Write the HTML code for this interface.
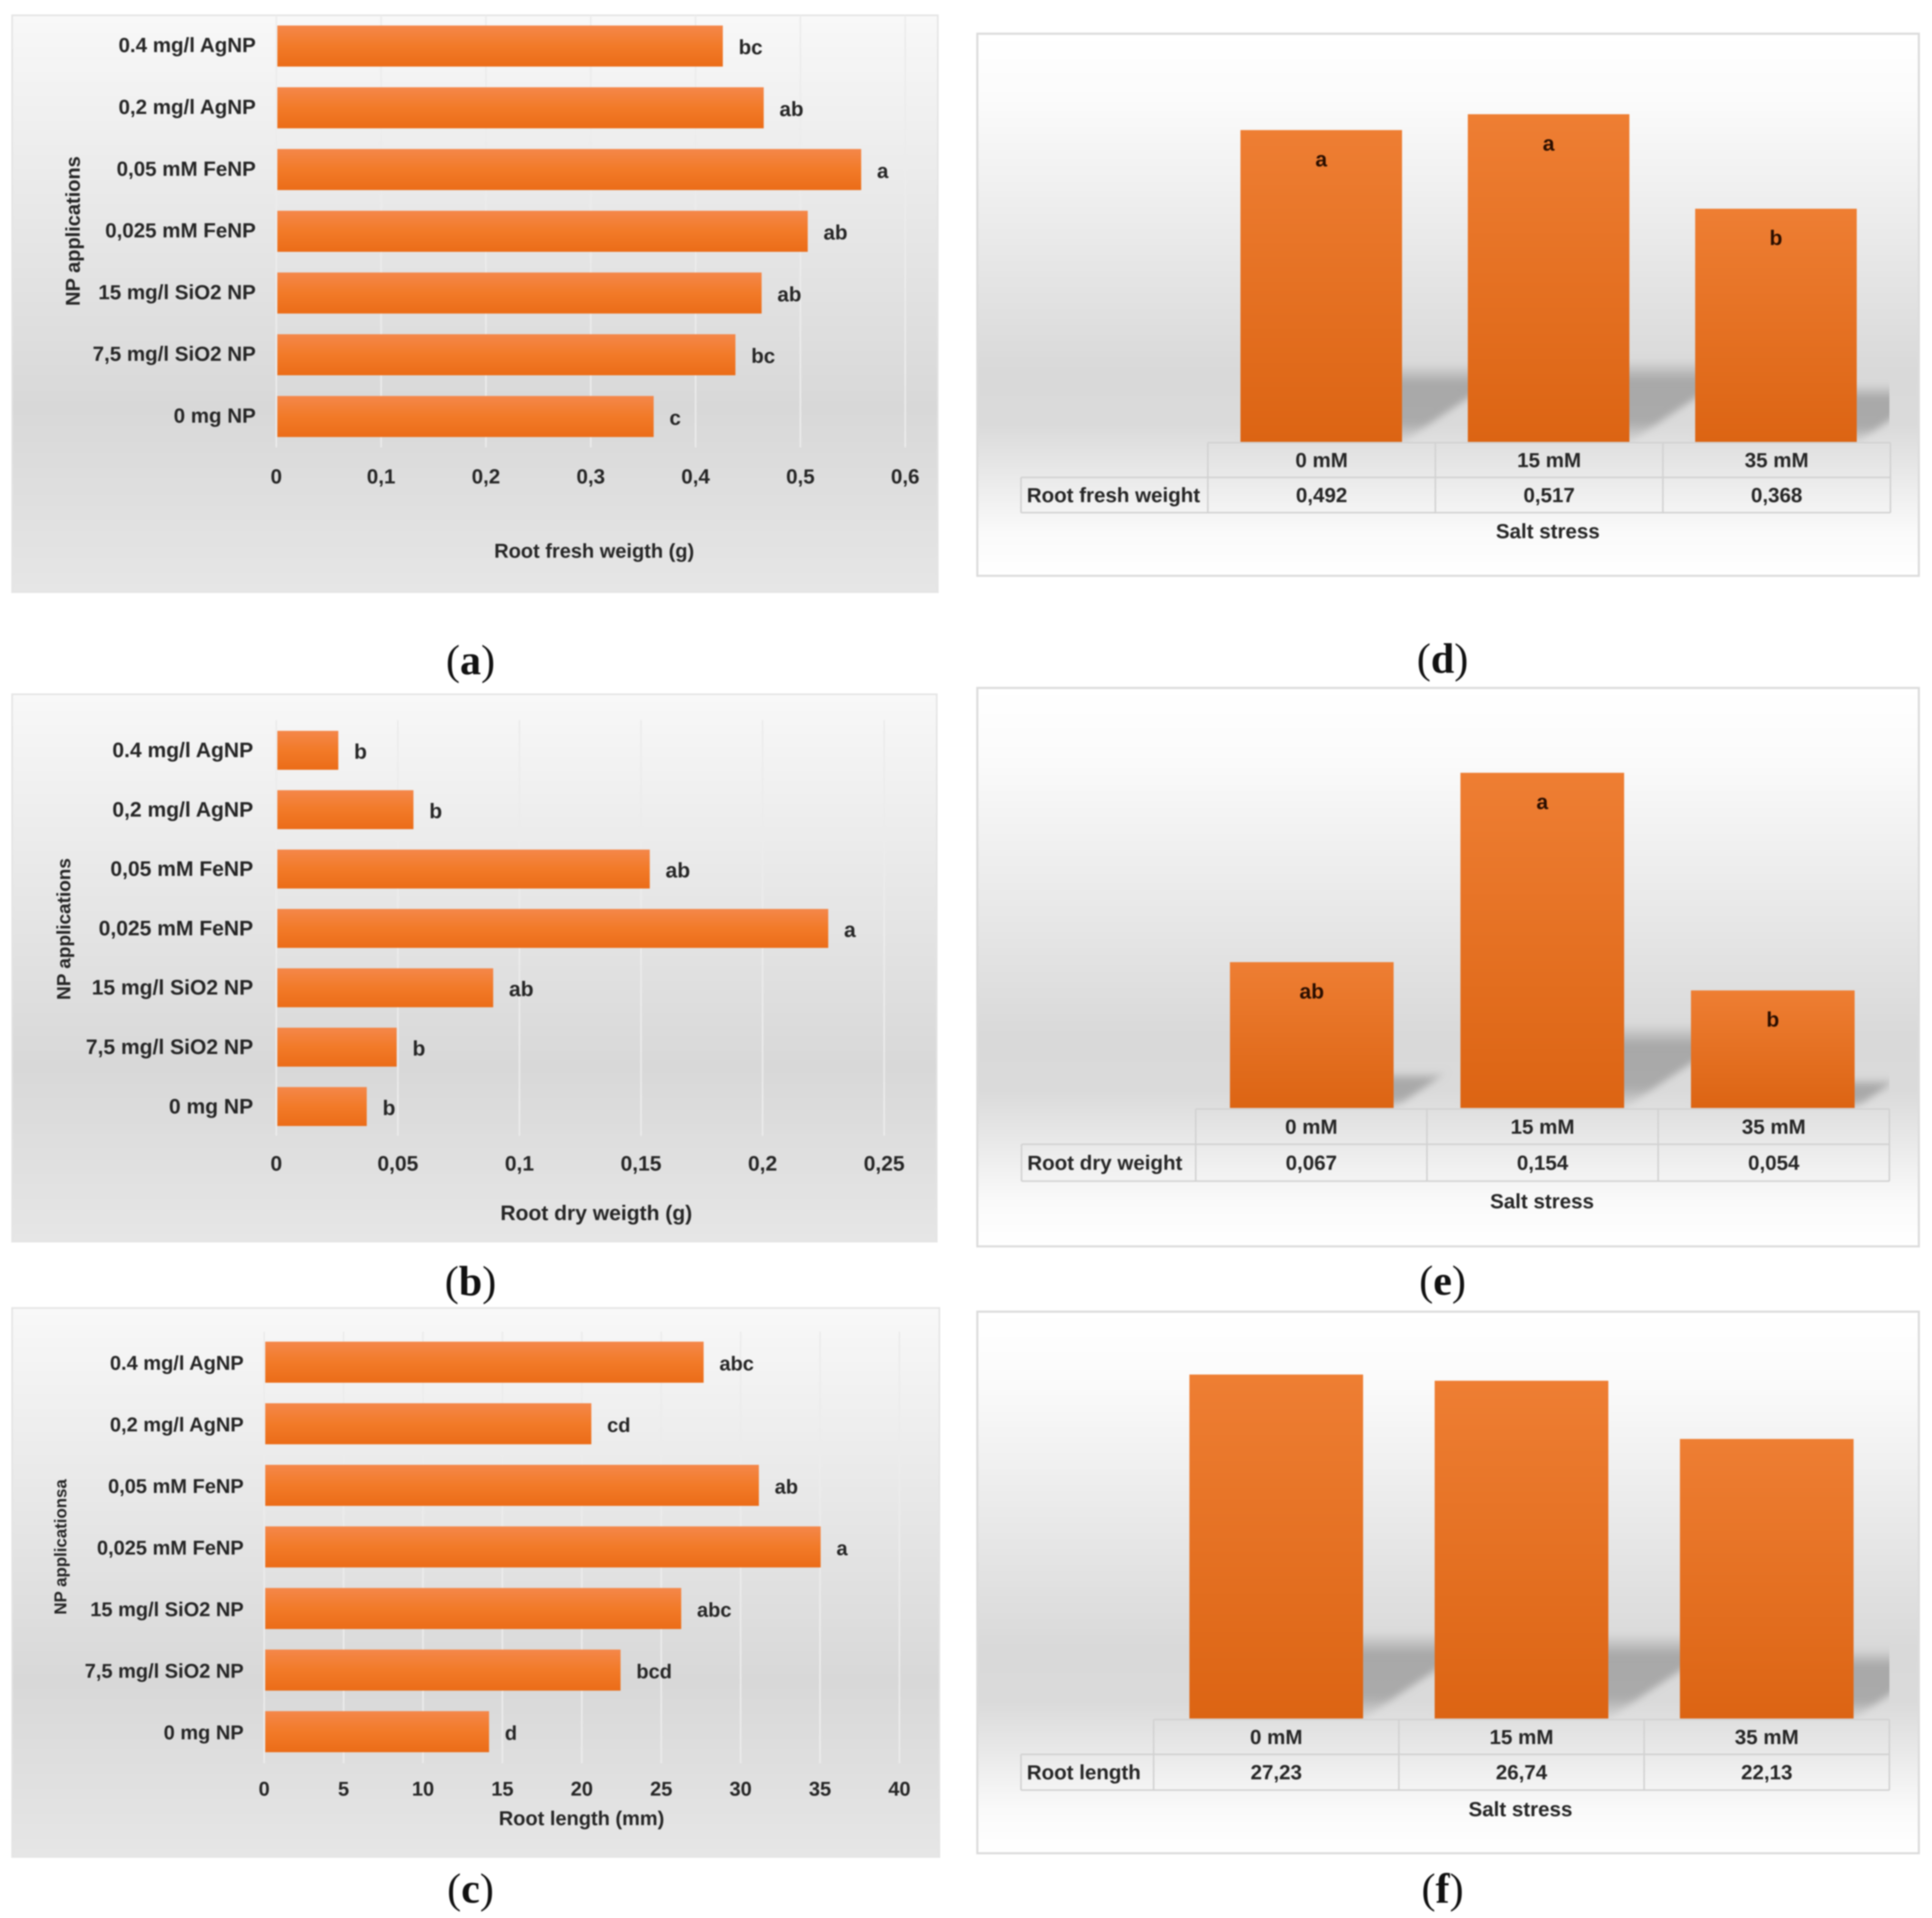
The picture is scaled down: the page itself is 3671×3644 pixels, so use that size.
<!DOCTYPE html>
<html lang="en">
<head>
<meta charset="utf-8">
<title>Root growth charts</title>
<style>
html,body{margin:0;padding:0;background:#fff;width:3671px;height:3644px;overflow:hidden}
svg{display:block;filter:blur(1.4px)}
text{font-family:"Liberation Sans",sans-serif;font-weight:700;fill:#262626}
.cap{font-family:"Liberation Serif",serif;font-weight:400;fill:#111;font-size:80px}
</style>
</head>
<body>
<svg id="figure" xmlns="http://www.w3.org/2000/svg" width="3671" height="3644" viewBox="0 0 3671 3644">
<defs>
<linearGradient id="bgLeft" x1="0" y1="0" x2="0" y2="1">
<stop offset="0" stop-color="#f8f8f8"/><stop offset="0.68" stop-color="#d8d8d8"/><stop offset="1" stop-color="#e6e6e6"/>
</linearGradient>
<linearGradient id="bgRight" x1="0" y1="0" x2="0" y2="1">
<stop offset="0" stop-color="#ffffff"/><stop offset="0.12" stop-color="#fbfbfb"/><stop offset="0.62" stop-color="#d9d9d9"/><stop offset="0.72" stop-color="#dadada"/><stop offset="0.92" stop-color="#fafafa"/><stop offset="1" stop-color="#ffffff"/>
</linearGradient>
<linearGradient id="barH" x1="0" y1="0" x2="0" y2="1">
<stop offset="0" stop-color="#f4874a"/><stop offset="0.5" stop-color="#f27a28"/><stop offset="1" stop-color="#eb6c18"/>
</linearGradient>
<linearGradient id="barV" x1="0" y1="0" x2="0" y2="1">
<stop offset="0" stop-color="#ee7e33"/><stop offset="1" stop-color="#dc6413"/>
</linearGradient>
<linearGradient id="shadow" x1="0" y1="0" x2="0" y2="1">
<stop offset="0" stop-color="#a8a8a8" stop-opacity="0"/><stop offset="0.25" stop-color="#a8a8a8" stop-opacity="1"/><stop offset="0.75" stop-color="#aaaaaa" stop-opacity="1"/><stop offset="1" stop-color="#c4c4c4" stop-opacity="0.35"/>
</linearGradient>
<filter id="softShadow" x="-30%" y="-30%" width="160%" height="160%">
<feGaussianBlur stdDeviation="7"/>
</filter>
</defs>
</svg>

<script>
// ---------- data ----------
const npCategories = ['0.4 mg/l AgNP', '0,2 mg/l AgNP', '0,05 mM FeNP', '0,025 mM FeNP', '15 mg/l SiO2 NP', '7,5 mg/l SiO2 NP', '0 mg NP'];

const freshValues = [0.426, 0.465, 0.558, 0.507, 0.463, 0.438, 0.36];
const freshLetters = ['bc', 'ab', 'a', 'ab', 'ab', 'bc', 'c'];
const freshTicks = [0, 0.1, 0.2, 0.3, 0.4, 0.5, 0.6];
const freshTickLabels = ['0', '0,1', '0,2', '0,3', '0,4', '0,5', '0,6'];

const dryValues = [0.0255, 0.0564, 0.1536, 0.227, 0.0892, 0.0495, 0.0372];
const dryLetters = ['b', 'b', 'ab', 'a', 'ab', 'b', 'b'];
const dryTicks = [0, 0.05, 0.1, 0.15, 0.2, 0.25];
const dryTickLabels = ['0', '0,05', '0,1', '0,15', '0,2', '0,25'];

const lengthValues = [27.67, 20.6, 31.15, 35.04, 26.26, 22.44, 14.16];
const lengthLetters = ['abc', 'cd', 'ab', 'a', 'abc', 'bcd', 'd'];
const lengthTicks = [0, 5, 10, 15, 20, 25, 30, 35, 40];
const lengthTickLabels = ['0', '5', '10', '15', '20', '25', '30', '35', '40'];

const saltCategories = ['0 mM', '15 mM', '35 mM'];

const saltFreshValues = [0.492, 0.517, 0.368];
const saltFreshPrinted = ['0,492', '0,517', '0,368'];
const saltFreshLetters = ['a', 'a', 'b'];

const saltDryValues = [0.067, 0.154, 0.054];
const saltDryPrinted = ['0,067', '0,154', '0,054'];
const saltDryLetters = ['ab', 'a', 'b'];

const saltLengthValues = [27.23, 26.74, 22.13];
const saltLengthPrinted = ['27,23', '26,74', '22,13'];
const saltLengthLetters = ['', '', ''];

// ---------- helpers ----------
const NS = 'http://www.w3.org/2000/svg';
const root = document.getElementById('figure');

function make(tag, parent, props) {
  const el = document.createElementNS(NS, tag);
  for (const k in props) el.setAttribute(k, props[k]);
  parent.appendChild(el);
  return el;
}
function label(parent, str, x, y, size, anchor) {
  const el = make('text', parent, {x: x, y: y + size * 0.35, 'font-size': size, 'text-anchor': anchor || 'middle'});
  el.textContent = str;
  return el;
}

// ---------- horizontal bar charts ----------
function hbar(g) {
  const grp = make('g', root, {});
  
  

  const bg = make('rect', grp, {x: g.px, y: g.py, width: g.pw, height: g.ph, fill: 'url(#bgLeft)', stroke: '#e4e4e4', 'stroke-width': 3});
  
  

  const xScale = v => g.x0 + (v - g.ticks[0]) / (g.ticks[g.ticks.length - 1] - g.ticks[0]) * (g.x1 - g.x0);
  const yBand = i => g.firstCenter + i * g.step;

  g.ticks.forEach((t, i) => {
    const line = make('line', grp, {x1: xScale(t), x2: xScale(t), y1: g.gridTop, y2: g.gridBottom, stroke: '#ececec', 'stroke-width': 3});
    
    
    const tl = label(grp, g.tickLabels[i], xScale(t), g.tickY, g.fs);
    
    
  });

  g.values.forEach((v, i) => {
    const cy = yBand(i);
    const bar = make('rect', grp, {x: xScale(0) + 2, y: cy - g.thick / 2, width: xScale(v) - xScale(0) - 2, height: g.thick, fill: 'url(#barH)'});
    
    
    const cat = label(grp, npCategories[i], g.labelRight, cy - 2 + g.catShift, g.fs, 'end');
    
    
    const let_ = label(grp, g.letters[i], xScale(v) + 30, cy + 2, g.fs, 'start');
    
    
  });

  const xt = label(grp, g.xTitle, g.xTitleX, g.xTitleY, g.xTitleFs);
  
  

  const yt = label(grp, g.yTitle, 0, 0, g.yTitleFs);
  yt.setAttribute('transform', 'translate(' + g.yTitleX + ',' + g.yTitleY + ') rotate(-90)');
  
  
}

// ---------- vertical bar charts with data table ----------
function vbar(g) {
  const grp = make('g', root, {});
  
  

  const bg = make('rect', grp, {x: g.px, y: g.py, width: g.pw, height: g.ph, fill: 'url(#bgRight)', stroke: '#dcdcdc', 'stroke-width': 4});
  
  

  const clipId = g.name + '-clip';
  const clip = make('clipPath', grp, {id: clipId});
  make('rect', clip, {x: g.px, y: g.py, width: g.plotRight - g.px, height: g.base - g.py});

  const yScale = v => g.base - v * g.unit;
  const colW = (g.cols.right - g.cols.first) / g.values.length;
  const shadows = make('g', grp, {'clip-path': 'url(#' + clipId + ')'});

  g.values.forEach((v, i) => {
    const h = g.base - yScale(v);
    const sh = h * 0.25;
    const shift = sh * 1.5;
    const left = g.barFirst + i * g.barStep;
    const shadow = make('polygon', shadows, {
      points: [[left, g.base], [left + g.barW, g.base], [left + g.barW + shift, g.base - sh], [left + shift, g.base - sh]].map(p => p.join(',')).join(' '),
      fill: 'url(#shadow)',
      filter: 'url(#softShadow)'
    });
    
    
  });

  g.values.forEach((v, i) => {
    const left = g.barFirst + i * g.barStep;
    const bar = make('rect', grp, {x: left, y: yScale(v), width: g.barW, height: g.base - yScale(v), fill: 'url(#barV)'});
    
    
    if (g.letters[i]) {
      const let_ = label(grp, g.letters[i], left + g.barW / 2, yScale(v) + 55, 40);
      
      
      let_.style.fill = '#2a0e00';
    }
  });

  // data table
  const lineStyle = {stroke: '#d2d2d2', 'stroke-width': 3};
  const hz = [
    [g.cols.first, g.cols.right, g.rows.top],
    [g.cols.label, g.cols.right, g.rows.mid],
    [g.cols.label, g.cols.right, g.rows.bottom]
  ];
  hz.forEach(r => {
    const line = make('line', grp, Object.assign({x1: r[0], x2: r[1], y1: r[2], y2: r[2]}, lineStyle));
    
    
  });
  const lab = make('line', grp, Object.assign({x1: g.cols.label, x2: g.cols.label, y1: g.rows.mid, y2: g.rows.bottom}, lineStyle));
  
  
  for (let i = 0; i <= g.values.length; i++) {
    const x = g.cols.first + i * colW;
    const line = make('line', grp, Object.assign({x1: x, x2: x, y1: g.rows.top, y2: g.rows.bottom}, lineStyle));
    
    
  }
  const yRow0 = (g.rows.top + g.rows.mid) / 2;
  const yRow1 = (g.rows.mid + g.rows.bottom) / 2;
  saltCategories.forEach((c, i) => {
    const head = label(grp, c, g.cols.first + (i + 0.5) * colW, yRow0, 39);
    
    
    const val = label(grp, g.printed[i], g.cols.first + (i + 0.5) * colW, yRow1, 39);
    
    
  });
  const rowName = label(grp, g.rowLabel, g.cols.label + 11, yRow1, 39, 'start');
  
  
  const xt = label(grp, 'Salt stress', g.xTitleX, g.xTitleY, 39);
  
  
}

function caption(letter, x, y) {
  const t = make('text', root, {x: x, y: y + 26, 'text-anchor': 'middle', class: 'cap'});
  
  
  t.appendChild(document.createTextNode('('));
  const b = make('tspan', t, {'font-weight': 700});
  b.textContent = letter;
  t.appendChild(document.createTextNode(')'));
}

// ---------- panels ----------
hbar({name:'chart-a', px:23, py:29, pw:1759, ph:1096, x0:525, x1:1720, ticks:freshTicks, tickLabels:freshTickLabels, values:freshValues, letters:freshLetters,
  firstCenter:87.5, step:117.3, thick:78, gridTop:29, gridBottom:850, tickY:905, labelRight:486, fs:39, catShift:0,
  xTitle:'Root fresh weigth (g)', xTitleX:1129, xTitleY:1046, xTitleFs:38, yTitle:'NP applications', yTitleX:138, yTitleY:439, yTitleFs:38});

hbar({name:'chart-b', px:23, py:1319, pw:1757, ph:1040, x0:525, x1:1680, ticks:dryTicks, tickLabels:dryTickLabels, values:dryValues, letters:dryLetters,
  firstCenter:1425.5, step:112.8, thick:74, gridTop:1368, gridBottom:2158, tickY:2210, labelRight:481, fs:40, catShift:1,
  xTitle:'Root dry weigth (g)', xTitleX:1133, xTitleY:2304, xTitleFs:40, yTitle:'NP applications', yTitleX:121, yTitleY:1765, yTitleFs:36});

hbar({name:'chart-c', px:23, py:2485, pw:1762, ph:1043, x0:502, x1:1709, ticks:lengthTicks, tickLabels:lengthTickLabels, values:lengthValues, letters:lengthLetters,
  firstCenter:2588, step:117, thick:78, gridTop:2530, gridBottom:3350, tickY:3398, labelRight:463, fs:38, catShift:3,
  xTitle:'Root length (mm)', xTitleX:1105, xTitleY:3454, xTitleFs:38, yTitle:'NP applicationsa', yTitleX:115, yTitleY:2939, yTitleFs:32});

vbar({name:'chart-d', px:1857, py:64, pw:1789, ph:1030, values:saltFreshValues, printed:saltFreshPrinted, letters:saltFreshLetters, rowLabel:'Root fresh weight',
  base:840, unit:1205, barFirst:2357, barStep:432, barW:307, plotRight:3590,
  cols:{label:1940, first:2295, right:3592}, rows:{top:841, mid:907, bottom:974}, xTitleX:2941, xTitleY:1009});

vbar({name:'chart-e', px:1857, py:1307, pw:1789, ph:1061, values:saltDryValues, printed:saltDryPrinted, letters:saltDryLetters, rowLabel:'Root dry weight',
  base:2105, unit:4135, barFirst:2337, barStep:438, barW:311, plotRight:3590,
  cols:{label:1941, first:2272, right:3590}, rows:{top:2107, mid:2174, bottom:2244}, xTitleX:2930, xTitleY:2282});

vbar({name:'chart-f', px:1857, py:2492, pw:1789, ph:1029, values:saltLengthValues, printed:saltLengthPrinted, letters:saltLengthLetters, rowLabel:'Root length',
  base:3265, unit:24, barFirst:2260, barStep:466, barW:330, plotRight:3590,
  cols:{label:1940, first:2192, right:3590}, rows:{top:3267, mid:3333, bottom:3401}, xTitleX:2889, xTitleY:3437});

caption('a', 894, 1255);
caption('b', 894, 2435);
caption('c', 894, 3589);
caption('d', 2741, 1252);
caption('e', 2741, 2434);
caption('f', 2741, 3589);
</script>
</body>
</html>
